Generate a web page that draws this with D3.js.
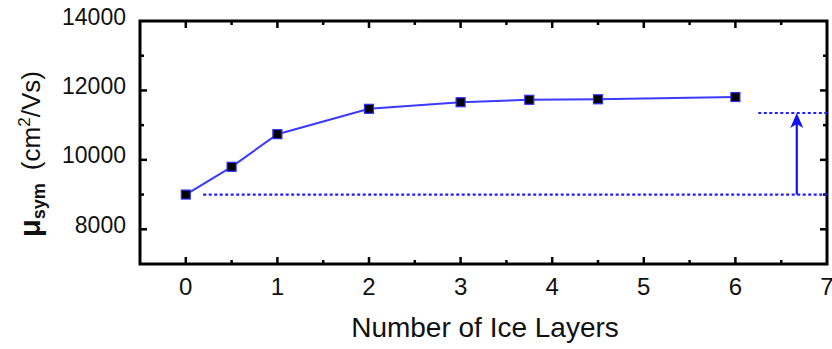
<!DOCTYPE html>
<html><head><meta charset="utf-8">
<script src="https://cdn.jsdelivr.net/npm/d3@7"></script>
<style>body{margin:0;background:#fff}svg{display:block}text{font-family:"Liberation Sans",Arial,sans-serif}</style>
</head><body>
<svg id="c" width="832" height="349"></svg>
<script>
const layers = [0, 0.5, 1, 2, 3, 3.75, 4.5, 6];
const mobility = [9000, 9800, 10740, 11470, 11660, 11730, 11745, 11810];
const xTicks = [0, 1, 2, 3, 4, 5, 6, 7];
const yTicks = [8000, 10000, 12000, 14000];
const baseline = 9000;
const upperLevel = 11350;
const baseStartX = 0.19;
const upperStartX = 6.25;
const arrowX = 6.67;

const svg = d3.select("#c");
const L = 140, R = 827, T = 21, B = 264;
const x = d3.scaleLinear().domain([-0.5, 7]).range([L, R]);
const y = d3.scaleLinear().domain([7000, 14000]).range([B, T]);
const blue = "#3b3bff", dotBlue = "#1f1fff";

// minor/major ticks (inward) on all four sides
const xMinor = d3.range(-0.5, 7.01, 0.5);
const yMinor = d3.range(7000, 14001, 1000);
const tg = svg.append("g").attr("stroke", "#000").attr("stroke-width", 2.5);
xMinor.forEach(v => {
  const len = Number.isInteger(v) ? 7 : 4;
  if (v <= -0.5 || v >= 7) return;
  tg.append("line").attr("x1", x(v)).attr("x2", x(v)).attr("y1", B).attr("y2", B - len);
  tg.append("line").attr("x1", x(v)).attr("x2", x(v)).attr("y1", T).attr("y2", T + len);
});
yMinor.forEach(v => {
  const len = v % 2000 === 0 ? 7 : 4;
  if (v <= 7000 || v >= 14000) return;
  tg.append("line").attr("y1", y(v)).attr("y2", y(v)).attr("x1", L).attr("x2", L + len);
  tg.append("line").attr("y1", y(v)).attr("y2", y(v)).attr("x1", R).attr("x2", R - len);
});

// frame
svg.append("rect").attr("x", L).attr("y", T).attr("width", R - L).attr("height", B - T)
  .attr("fill", "none").attr("stroke", "#000").attr("stroke-width", 3);

// tick labels
svg.append("g").selectAll("text").data(xTicks).join("text")
  .attr("x", d => x(d)).attr("y", 294.5).attr("text-anchor", "middle")
  .attr("font-size", 24).attr("fill", "#111").text(d => d);
svg.append("g").selectAll("text").data(yTicks).join("text")
  .attr("x", 126).attr("y", d => y(d) + 3.5).attr("text-anchor", "end")
  .attr("font-size", 23).attr("fill", "#111").text(d => d);

// axis titles
svg.append("text").attr("x", 485).attr("y", 337).attr("text-anchor", "middle")
  .attr("font-size", 28).attr("fill", "#111").text("Number of Ice Layers");
const yl = svg.append("text").attr("transform", "translate(40,154) rotate(-90)")
  .attr("text-anchor", "middle").attr("font-size", 26).attr("fill", "#111");
yl.append("tspan").attr("font-weight", "bold").attr("font-size", 29).text("μ");
yl.append("tspan").attr("font-weight", "bold").attr("font-size", 18).attr("dy", 5).text("sym");
yl.append("tspan").attr("dy", -5).text("\u2002(cm");
yl.append("tspan").attr("font-size", 17).attr("dy", -10).text("2");
yl.append("tspan").attr("dy", 10).text("/Vs)");

// dotted reference lines
svg.append("line").attr("x1", x(baseStartX)).attr("x2", x(7)).attr("y1", y(baseline)).attr("y2", y(baseline))
  .attr("stroke", dotBlue).attr("stroke-width", 2.2).attr("stroke-dasharray", "3,2.5");
svg.append("line").attr("x1", x(upperStartX)).attr("x2", x(7)).attr("y1", y(upperLevel)).attr("y2", y(upperLevel))
  .attr("stroke", dotBlue).attr("stroke-width", 2.2).attr("stroke-dasharray", "3,2.5");

// arrow
const ax = x(arrowX), ay0 = y(baseline), ay1 = y(upperLevel);
svg.append("line").attr("x1", ax).attr("x2", ax).attr("y1", ay0).attr("y2", ay1 + 8)
  .attr("stroke", "#1010ff").attr("stroke-width", 2.2);
svg.append("path").attr("d", `M${ax},${ay1} L${ax + 6.5},${ay1 + 15} L${ax},${ay1 + 11} L${ax - 6.5},${ay1 + 15} Z`)
  .attr("fill", "#1010ff");

// data line
const pts = layers.map((d, i) => [d, mobility[i]]);
svg.append("path").datum(pts)
  .attr("d", d3.line().x(d => x(d[0])).y(d => y(d[1])))
  .attr("fill", "none").attr("stroke", blue).attr("stroke-width", 2);
svg.append("g").selectAll("rect").data(pts).join("rect")
  .attr("x", d => x(d[0]) - 4.5).attr("y", d => y(d[1]) - 4.5)
  .attr("width", 9).attr("height", 9)
  .attr("fill", "#000").attr("stroke", "#3030ff").attr("stroke-width", 1.2);
</script>
</body></html>
